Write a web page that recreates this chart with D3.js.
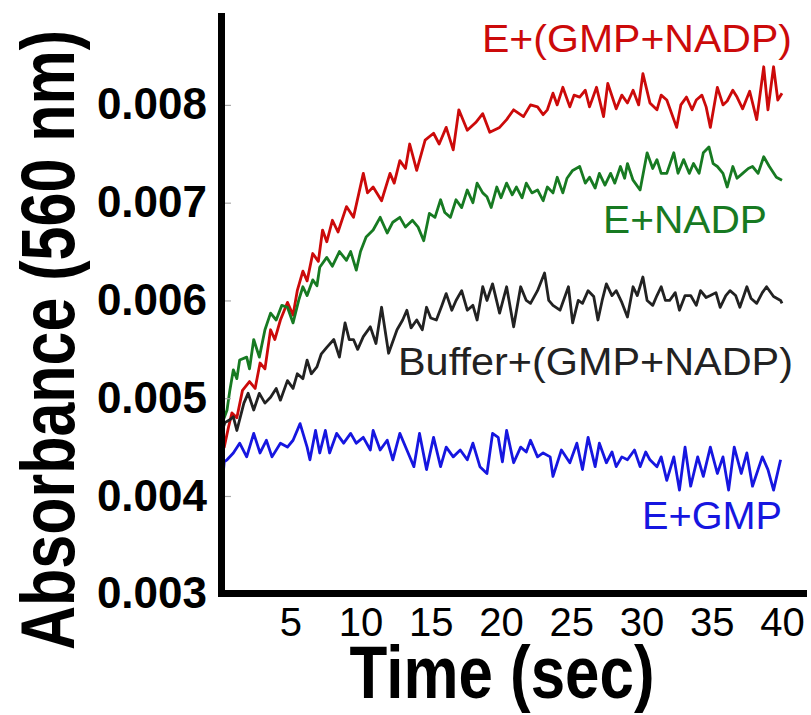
<!DOCTYPE html>
<html lang="en">
<head>
  <meta charset="UTF-8" />
  <title>Absorbance vs time</title>
  <script src="https://d3js.org/d3.v7.min.js"></script>
  <style>
    body { margin: 0; background: #fff; }
    svg { display: block; font-family: "Liberation Sans", Arial, sans-serif; }
  </style>
</head>
<body>
  <svg width="811" height="715"></svg>
  <script>
    // time (sec), absorbance in units of 0.001
    const redSeries = [[0,4.55],[0.3,4.5],[0.6,4.7],[0.85,4.85],[1.2,4.8],[1.6,5.08],[2.1,5.17],[2.5,5.1],[2.85,5.36],[3.2,5.3],[3.6,5.7],[3.9,5.6],[4.3,5.8],[4.8,5.98],[5.2,5.85],[5.5,6.1],[5.9,6.3],[6.2,6.2],[6.6,6.48],[7.0,6.4],[7.3,6.72],[7.6,6.6],[8.0,6.82],[8.4,6.7],[9.0,6.96],[9.5,6.85],[10.2,7.3],[10.5,7.1],[10.9,7.16],[11.5,7.02],[12.1,7.3],[12.4,7.2],[12.8,7.43],[13.2,7.35],[13.5,7.6],[14.0,7.33],[14.6,7.64],[15.2,7.71],[15.6,7.6],[16.1,7.77],[16.6,7.54],[17.0,7.95],[17.6,7.74],[18.2,7.82],[18.7,7.91],[19.2,7.72],[19.9,7.77],[20.4,7.85],[20.9,7.95],[21.6,7.88],[22.1,8.0],[22.6,7.98],[23.0,7.9],[23.3,7.95],[23.7,8.12],[24.0,8.0],[24.4,8.18],[24.9,7.98],[25.2,8.1],[25.6,8.08],[26.0,8.15],[26.3,7.98],[26.8,8.18],[27.3,7.88],[27.6,8.22],[28.2,7.96],[28.6,8.1],[29.0,8.02],[29.4,8.15],[29.8,8.0],[30.1,8.32],[30.6,8.02],[31.1,7.95],[31.4,8.1],[31.8,8.05],[32.5,7.77],[32.8,8.0],[33.2,8.08],[33.6,7.95],[33.9,8.05],[34.3,8.1],[34.6,7.98],[34.9,7.77],[35.4,8.18],[35.8,8.0],[36.1,8.04],[36.5,8.15],[36.8,8.08],[37.2,7.96],[37.7,8.14],[38.2,7.85],[38.7,8.39],[39.0,7.95],[39.4,8.39],[39.7,8.05],[40,8.12]];

    const greenSeries = [[0,4.7],[0.3,4.8],[0.5,4.88],[0.7,5.08],[0.95,5.29],[1.2,5.2],[1.4,5.39],[1.9,5.42],[2.1,5.3],[2.4,5.6],[2.8,5.42],[3.2,5.7],[3.6,5.87],[4.0,5.8],[4.4,5.95],[4.8,5.93],[5.2,5.77],[5.6,6.0],[5.9,6.14],[6.2,6.05],[6.6,6.21],[6.9,6.15],[7.1,6.34],[7.6,6.44],[8.0,6.35],[8.5,6.5],[9.0,6.41],[9.3,6.5],[9.7,6.31],[10.0,6.5],[10.4,6.65],[10.9,6.72],[11.4,6.85],[11.9,6.69],[12.3,6.8],[12.8,6.85],[13.2,6.75],[13.7,6.82],[14.1,6.75],[14.5,6.61],[14.9,6.89],[15.3,6.85],[15.7,7.03],[16.0,6.9],[16.4,6.85],[16.8,7.03],[17.2,6.95],[17.6,7.13],[18.0,7.0],[18.3,7.2],[18.7,7.1],[19.0,7.06],[19.3,6.95],[19.7,7.16],[20.0,7.05],[20.4,7.2],[20.8,7.08],[21.1,7.16],[21.5,7.05],[21.8,7.2],[22.2,7.1],[22.6,7.13],[23.0,7.02],[23.3,7.16],[23.7,7.1],[24.0,7.26],[24.4,7.1],[24.7,7.25],[25.1,7.33],[25.6,7.37],[26.0,7.2],[26.3,7.26],[26.7,7.15],[27.0,7.3],[27.4,7.18],[27.8,7.3],[28.1,7.2],[28.5,7.37],[28.8,7.25],[29.0,7.4],[29.4,7.23],[29.9,7.13],[30.4,7.51],[30.8,7.35],[31.1,7.44],[31.4,7.3],[31.8,7.3],[32.3,7.51],[32.6,7.3],[33.0,7.44],[33.4,7.3],[33.7,7.4],[34.1,7.3],[34.4,7.51],[34.8,7.57],[35.1,7.4],[35.4,7.37],[35.8,7.3],[36.1,7.16],[36.5,7.37],[36.8,7.25],[37.2,7.3],[37.6,7.35],[37.9,7.37],[38.3,7.3],[38.7,7.47],[39.1,7.37],[39.6,7.26],[40,7.23]];

    const blackSeries = [[0,4.6],[0.35,4.75],[0.7,4.78],[0.95,4.81],[1.2,4.67],[1.7,4.95],[2.0,5.05],[2.4,4.88],[2.8,5.05],[3.2,4.95],[3.6,5.01],[4.0,5.1],[4.3,4.98],[4.8,5.18],[5.2,5.1],[5.5,5.25],[5.9,5.2],[6.2,5.39],[6.5,5.25],[6.9,5.32],[7.2,5.45],[7.6,5.52],[8.1,5.6],[8.5,5.42],[8.9,5.77],[9.2,5.6],[9.5,5.6],[9.8,5.5],[10.2,5.63],[10.7,5.73],[11.1,5.56],[11.5,5.93],[12.0,5.46],[12.6,5.7],[13.0,5.8],[13.3,5.9],[13.6,5.72],[14.0,5.8],[14.4,5.7],[14.7,5.93],[15.0,5.82],[15.4,5.8],[15.8,5.95],[16.1,6.07],[16.5,5.9],[16.8,6.0],[17.2,6.1],[17.6,5.9],[18.0,5.95],[18.3,5.8],[18.7,6.14],[19.0,6.0],[19.4,6.17],[19.9,5.87],[20.4,6.14],[20.9,5.73],[21.4,6.14],[21.8,6.0],[22.1,5.97],[22.6,6.1],[23.1,6.28],[23.4,6.0],[23.7,5.95],[24.2,5.9],[24.8,6.14],[25.1,5.77],[25.5,6.0],[25.8,5.97],[26.2,6.1],[26.6,6.04],[26.9,5.8],[27.2,6.0],[27.5,6.17],[27.9,6.05],[28.2,6.1],[28.6,5.98],[29.0,5.83],[29.4,6.14],[29.7,6.05],[30.1,6.24],[30.4,6.0],[30.8,5.95],[31.1,6.05],[31.4,6.14],[31.7,6.0],[32.0,6.0],[32.4,6.08],[32.7,5.9],[33.1,6.05],[33.5,6.05],[33.9,5.95],[34.2,6.1],[34.6,6.03],[34.9,6.05],[35.3,6.08],[35.6,5.93],[36.0,6.05],[36.3,6.1],[36.7,6.05],[37.0,5.93],[37.5,6.14],[37.8,6.02],[38.2,5.97],[38.6,6.08],[38.9,6.14],[39.4,6.04],[39.9,6.0],[40,5.97]];

    const blueSeries = [[0,3.95],[0.15,4.1],[0.3,4.35],[0.5,4.37],[0.95,4.44],[1.4,4.54],[1.9,4.4],[2.4,4.64],[2.85,4.44],[3.3,4.57],[3.7,4.4],[4.3,4.54],[4.8,4.5],[5.2,4.57],[5.7,4.74],[6.2,4.5],[6.4,4.37],[6.8,4.67],[7.1,4.44],[7.5,4.67],[7.8,4.44],[8.3,4.64],[8.8,4.54],[9.3,4.64],[9.7,4.54],[10.2,4.6],[10.7,4.47],[10.9,4.67],[11.4,4.47],[11.9,4.57],[12.3,4.37],[12.8,4.64],[13.3,4.47],[13.8,4.3],[14.2,4.64],[14.7,4.27],[15.2,4.6],[15.7,4.3],[16.1,4.5],[16.6,4.4],[17.1,4.47],[17.6,4.37],[18.0,4.54],[18.5,4.3],[19.0,4.23],[19.4,4.64],[19.8,4.6],[20.1,4.35],[20.4,4.67],[20.9,4.34],[21.4,4.5],[21.8,4.45],[22.1,4.57],[22.6,4.4],[23.0,4.44],[23.5,4.4],[23.7,4.2],[24.3,4.47],[24.9,4.34],[25.4,4.54],[25.8,4.27],[26.2,4.6],[26.7,4.3],[27.0,4.54],[27.5,4.34],[27.9,4.45],[28.2,4.3],[28.6,4.4],[29.0,4.37],[29.5,4.47],[29.9,4.3],[30.3,4.45],[30.6,4.37],[31.1,4.3],[31.4,4.4],[31.8,4.16],[32.3,4.4],[32.7,4.06],[33.1,4.5],[33.5,4.1],[34.0,4.4],[34.4,4.2],[34.9,4.5],[35.4,4.23],[35.8,4.4],[36.2,4.06],[36.6,4.5],[37.1,4.23],[37.5,4.44],[37.9,4.1],[38.6,4.4],[39.0,4.27],[39.4,4.06],[39.9,4.37]];

    const seriesNames = ["E+(GMP+NADP)", "E+NADP", "Buffer+(GMP+NADP)", "E+GMP"];
    const seriesColors = ["#cc0a0a", "#177a22", "#222222", "#1616e0"];
    const yTicks = [0.003, 0.004, 0.005, 0.006, 0.007, 0.008];
    const xTicks = [5, 10, 15, 20, 25, 30, 35, 40];

    const svg = d3.select("svg");

    const x = d3.scaleLinear().domain([0, 40]).range([220, 782]);
    const y = d3.scaleLinear().domain([0.003, 0.00894]).range([593.75, 13]);

    const allSeries = [redSeries, greenSeries, blackSeries, blueSeries];

    const line = d3.line()
      .x(d => x(d[0]))
      .y(d => y(d[1] / 1000));

    // traces
    svg.append("g")
      .attr("fill", "none")
      .selectAll("path")
      .data(allSeries)
      .join("path")
      .attr("d", line)
      .attr("stroke", (d, i) => seriesColors[i])
      .attr("stroke-width", 2.8)
      .attr("stroke-linejoin", "round");

    // y axis: gray ticks pointing inward, bold labels
    const yAxis = svg.append("g")
      .attr("transform", "translate(221,0)")
      .call(d3.axisLeft(y).tickValues(yTicks).tickFormat(d3.format(".3f"))
        .tickSizeInner(-10).tickSizeOuter(0).tickPadding(14));
    yAxis.select(".domain").remove();
    yAxis.selectAll(".tick line").attr("stroke", "#aaa").attr("stroke-width", 1.2);
    yAxis.selectAll(".tick text")
      .attr("font-size", 44).attr("font-weight", "bold")
      .attr("font-family", "Liberation Sans, Arial, sans-serif")
      .attr("fill", "#000");

    const xAxis = svg.append("g")
      .attr("transform", "translate(0,593.5)")
      .call(d3.axisBottom(x).tickValues(xTicks).tickSize(0).tickPadding(14));
    xAxis.select(".domain").remove();
    xAxis.selectAll(".tick text")
      .attr("font-size", 40)
      .attr("font-family", "Liberation Sans, Arial, sans-serif")
      .attr("fill", "#000");

    // heavy axis frame
    svg.append("line").attr("x1", 221.5).attr("x2", 221.5).attr("y1", 13).attr("y2", 597)
      .attr("stroke", "#000").attr("stroke-width", 7);
    svg.append("line").attr("x1", 218).attr("x2", 807).attr("y1", 593.5).attr("y2", 593.5)
      .attr("stroke", "#000").attr("stroke-width", 7);

    // axis titles
    svg.append("text")
      .attr("transform", "translate(74,340) rotate(-90)")
      .attr("text-anchor", "middle")
      .attr("font-size", 76).attr("font-weight", "bold")
      .attr("textLength", 620).attr("lengthAdjust", "spacingAndGlyphs")
      .text("Absorbance (560 nm)");

    svg.append("text")
      .attr("x", 502).attr("y", 698)
      .attr("text-anchor", "middle")
      .attr("font-size", 74).attr("font-weight", "bold")
      .attr("textLength", 305).attr("lengthAdjust", "spacingAndGlyphs")
      .text("Time (sec)");

    // series labels
    const labelPos = [[792, 52, 310], [767, 233, 164], [793, 375, 395], [782, 529, 140]];
    svg.append("g")
      .selectAll("text")
      .data(seriesNames)
      .join("text")
      .attr("x", (d, i) => labelPos[i][0])
      .attr("y", (d, i) => labelPos[i][1])
      .attr("text-anchor", "end")
      .attr("font-size", 39)
      .attr("textLength", (d, i) => labelPos[i][2])
      .attr("lengthAdjust", "spacingAndGlyphs")
      .attr("fill", (d, i) => seriesColors[i])
      .text(d => d);
  </script>
</body>
</html>
